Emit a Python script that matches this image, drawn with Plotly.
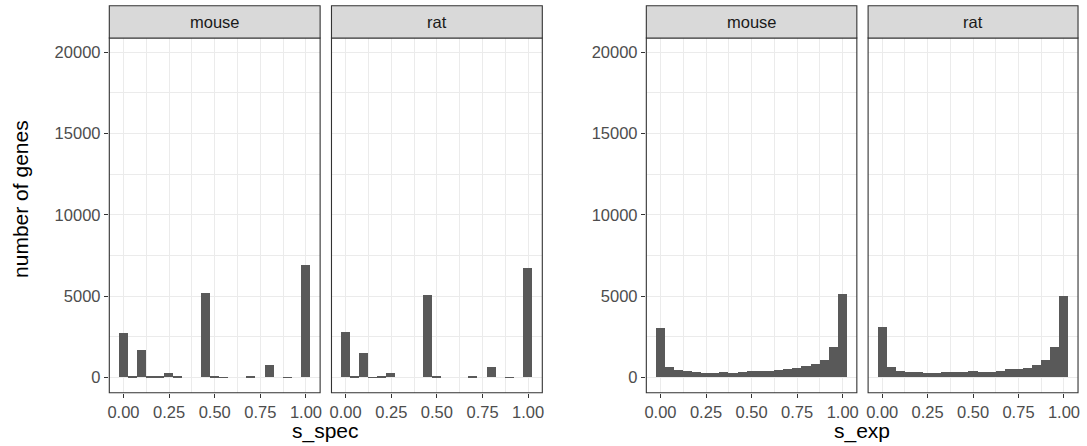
import plotly.graph_objects as go

# ---- data ----
bin_centers = [0.00, 0.05, 0.10, 0.15, 0.20, 0.25, 0.30, 0.35, 0.40, 0.45, 0.50,
               0.55, 0.60, 0.65, 0.70, 0.75, 0.80, 0.85, 0.90, 0.95, 1.00]
species = ["mouse", "rat"]
spec_mouse = [2705, 80, 1700, 20, 20, 250, 20, 0, 0, 5160, 30, 10, 0, 0, 40, 0, 740, 0, 15, 0, 6890]
spec_rat = [2770, 80, 1480, 10, 50, 250, 0, 0, 0, 5060, 80, 0, 0, 0, 30, 0, 660, 0, 15, 0, 6700]
exp_mouse = [3020, 620, 450, 370, 330, 290, 290, 330, 250, 330, 370, 370, 410, 450, 490, 555, 680, 800, 1070, 1850, 5120]
exp_rat = [3090, 620, 410, 310, 310, 250, 270, 310, 310, 350, 410, 330, 350, 390, 515, 535, 600, 760, 1070, 1850, 5000]
x_ticks = [0.0, 0.25, 0.5, 0.75, 1.0]
x_ticklabels = ["0.00", "0.25", "0.50", "0.75", "1.00"]
y_ticks = [0, 5000, 10000, 15000, 20000]
y_ticklabels = ["0", "5000", "10000", "15000", "20000"]
x_titles = ["s_spec", "s_exp"]
y_title = "number of genes"

# ---- layout geometry (pixels) ----
W, H = 1087, 446
panels_px = [(107.7, 319.3), (330.7, 542.3), (646.7, 858.0), (869.3, 1080.0)]
panel_top, panel_bottom = 38.0, 392.7
strip_top = 5.7

def px_x(v):
    return v / W

def px_y(v):
    return (H - v) / H

FONT = "Liberation Sans, Arial, Helvetica, sans-serif"
BAR_COLOR = "#595959"
GRID_MAJOR = "#ebebeb"
BORDER = "#333333"

series = [spec_mouse, spec_rat, exp_mouse, exp_rat]
fig = go.Figure()

for i, vals in enumerate(series):
    idx = "" if i == 0 else str(i + 1)
    fig.add_trace(go.Bar(
        x=bin_centers, y=vals, width=0.05,
        marker=dict(color=BAR_COLOR, line=dict(width=0)),
        xaxis="x" + idx, yaxis="y" + idx, showlegend=False,
        hoverinfo="x+y",
    ))

layout = dict(
    width=W, height=H,
    margin=dict(l=0, r=0, t=0, b=0),
    paper_bgcolor="white", plot_bgcolor="white",
    font=dict(family=FONT, color="#4d4d4d"),
    bargap=0,
    shapes=[], annotations=[],
)

for i, (x0, x1) in enumerate(panels_px):
    idx = "" if i == 0 else str(i + 1)
    xa = dict(
        domain=[px_x(x0), px_x(x1)],
        range=[-0.0775, 1.0775],
        anchor="y" + idx,
        tickmode="array", tickvals=x_ticks, ticktext=x_ticklabels,
        ticks="outside", ticklen=4.5, tickwidth=1.07, tickcolor=BORDER,
        tickfont=dict(size=16.5, color="#4d4d4d", family=FONT),
        showgrid=True, gridcolor=GRID_MAJOR, gridwidth=1.07,
        minor=dict(tickmode="array", tickvals=[0.125, 0.375, 0.625, 0.875],
                   showgrid=True, gridcolor=GRID_MAJOR, gridwidth=0.53, ticks=""),
        zeroline=False, showline=False, fixedrange=True,
    )
    show_y = i in (0, 2)
    ya = dict(
        domain=[px_y(panel_bottom), px_y(panel_top)],
        range=[-948, 20880],
        anchor="x" + idx,
        tickmode="array", tickvals=y_ticks, ticktext=y_ticklabels,
        ticks="outside" if show_y else "", ticklen=4.5, tickwidth=1.07, tickcolor=BORDER,
        showticklabels=show_y,
        tickfont=dict(size=16.5, color="#4d4d4d", family=FONT),
        showgrid=True, gridcolor=GRID_MAJOR, gridwidth=1.07,
        minor=dict(tickmode="array", tickvals=[2500, 7500, 12500, 17500],
                   showgrid=True, gridcolor=GRID_MAJOR, gridwidth=0.53, ticks=""),
        zeroline=False, showline=False, fixedrange=True,
    )
    layout["xaxis" + idx] = xa
    layout["yaxis" + idx] = ya

    # panel border
    layout["shapes"].append(dict(
        type="rect", xref="paper", yref="paper",
        x0=px_x(x0), x1=px_x(x1), y0=px_y(panel_bottom), y1=px_y(panel_top),
        line=dict(color=BORDER, width=1.1), fillcolor="rgba(0,0,0,0)", layer="above",
    ))
    # strip
    layout["shapes"].append(dict(
        type="rect", xref="paper", yref="paper",
        x0=px_x(x0), x1=px_x(x1), y0=px_y(panel_top), y1=px_y(strip_top),
        line=dict(color=BORDER, width=1.1), fillcolor="#d9d9d9", layer="above",
    ))
    layout["annotations"].append(dict(
        xref="paper", yref="paper",
        x=px_x((x0 + x1) / 2), y=px_y((panel_top + strip_top) / 2),
        text=species[i % 2], showarrow=False,
        xanchor="center", yanchor="middle",
        font=dict(size=16.5, color="#1a1a1a", family=FONT),
    ))

# x titles
for g, title in enumerate(x_titles):
    left = panels_px[2 * g][0]
    right = panels_px[2 * g + 1][1]
    layout["annotations"].append(dict(
        xref="paper", yref="paper",
        x=px_x((left + right) / 2), y=px_y(431),
        text=title, showarrow=False, xanchor="center", yanchor="middle",
        font=dict(size=21, color="black", family=FONT),
    ))

# y title
layout["annotations"].append(dict(
    xref="paper", yref="paper",
    x=px_x(19), y=px_y(199),
    text=y_title, showarrow=False, textangle=-90,
    xanchor="center", yanchor="middle",
    font=dict(size=21, color="black", family=FONT),
))

fig.update_layout(**layout)
fig.write_html(
    "out.html",
    config={"displayModeBar": False},
    post_script="document.body.style.margin='0';document.body.style.overflow='hidden';",
)
